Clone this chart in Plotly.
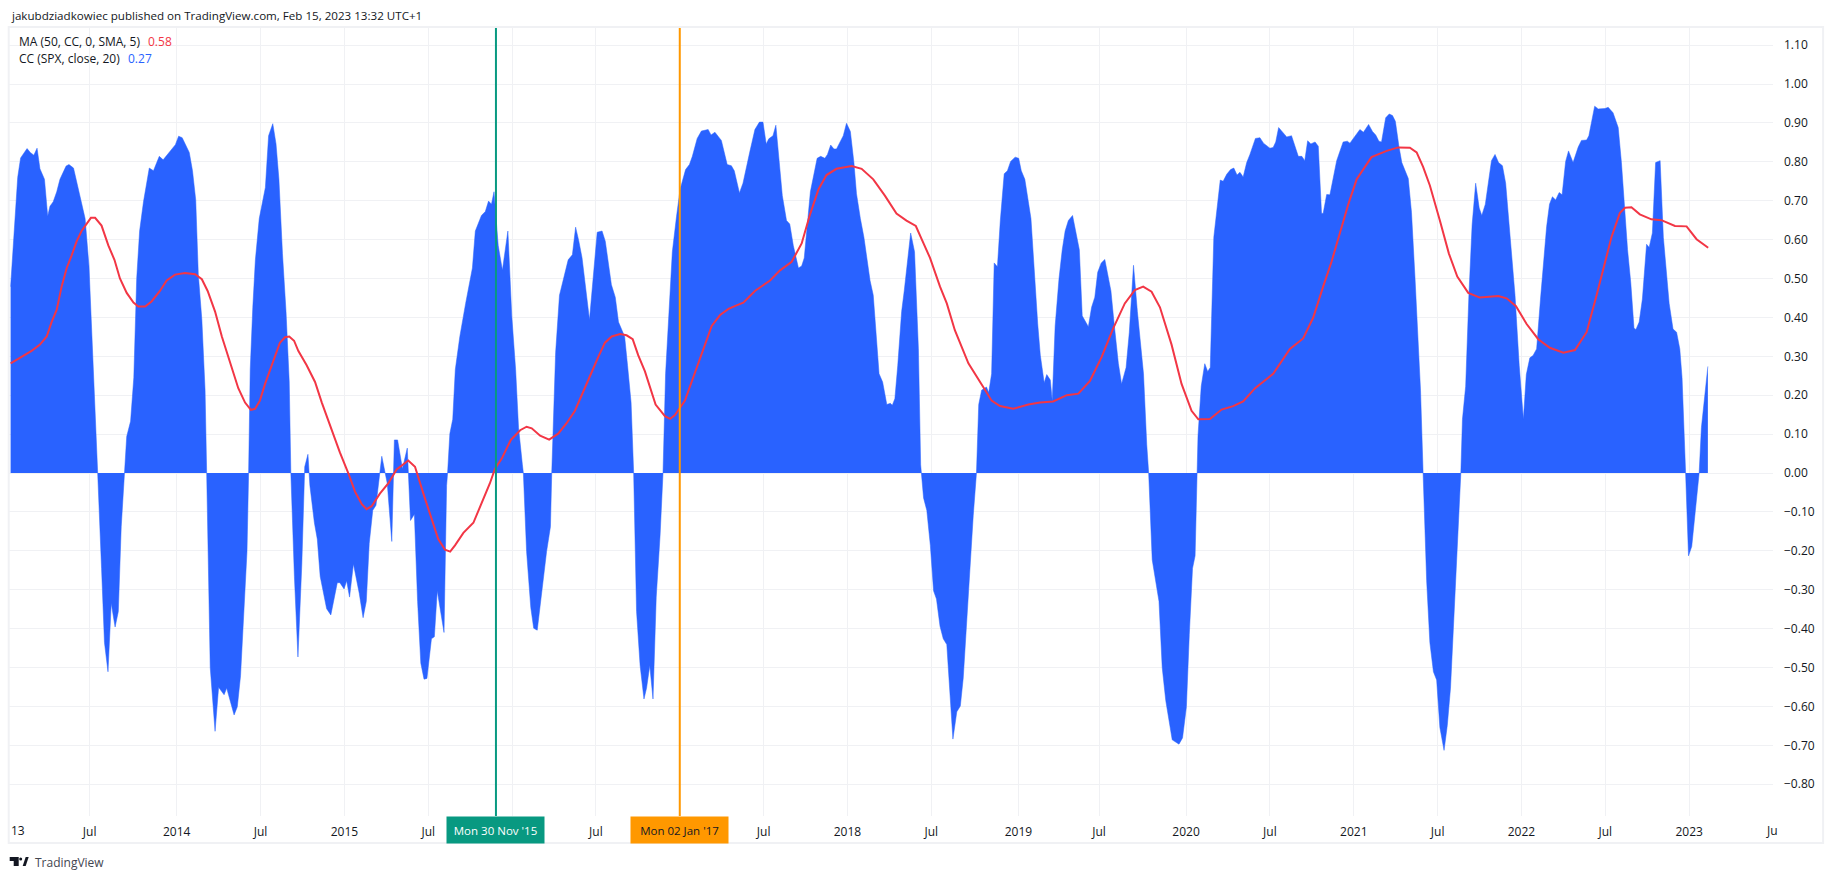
import pandas as pd
import plotly.graph_objects as go

# bar number = weeks since first weekly bar on the chart
first_bar = "2013-01-07"
last_bar = 547

cc_bar = [0.5, 1.7, 2.7, 3.6, 4.5, 5.6, 6.6, 7.7, 8.7, 9.6, 11, 12, 12.7, 13.7, 14.8, 15.8, 17.7, 18.6, 20, 23.6,
          24.8, 25.8, 26.9, 27.5, 28.7, 29.6, 30.7, 31.7, 32.9, 33.9, 34.8, 35.7, 36.5, 37.7, 38.7, 39.6, 40.5,
          41.7, 43.5, 44.8, 46.6, 47.8, 49.6, 51.6, 52.6, 53.7, 55.9, 56.9, 57.9, 58.7, 59.8, 60.8, 61.3, 61.8,
          62.4, 63.9, 65, 66.7, 67.5, 69.8, 70.8, 71.8, 72.8, 73.8, 74.3, 74.8, 75.6, 76.4, 77.6, 79.5, 80.5,
          81.8, 82.8, 83.7, 84.8, 85.9, 86.9, 87.4, 88.5, 89.6, 90.8, 91.7, 92.7, 93.3, 94.7, 95.6, 96.5, 97.6,
          98.5, 99.8, 100.8, 101.8, 102.6, 103.9, 104.7, 105.6, 106.8, 108.6, 109.8, 110.8, 111.7, 112.8, 113.8,
          114.7, 115.6, 117.3, 118.7, 119.5, 120.5, 122, 123.5, 124.5, 125.7, 126.7, 127.7, 128.7, 129.6, 131,
          131.9, 132.8, 134.9, 135.7, 136, 136.7, 137.6, 138.4, 139.8, 141.6, 143.7, 144.6, 146.5, 147.7, 148.7,
          149.6, 150.4, 151.7, 153, 154.7, 155.9, 157.1, 158, 159.2, 159.5, 160.5, 161.8, 162.7, 163.8, 166.7,
          167.9, 168.3, 168.8, 169.5, 170.7, 171.9, 173.4, 174.7, 175.7, 176.7, 177.7, 180, 181.2, 182.4, 183.9,
          184.9, 186.8, 188, 189, 190, 190.9, 191.8, 192.9, 193.7, 194.6, 195.7, 196.9, 197.7, 198.7, 199.7,
          200.7, 201.9, 202.8, 203.6, 204.7, 205.7, 207, 208.1, 209.8, 211, 211.9, 213.4, 214.7, 216.8, 217.7,
          218.9, 220.9, 222.7, 224, 224.9, 226.5, 227.6, 229.7, 231.3, 232.7, 233.8, 234.8, 235.6, 236.9, 237.8,
          239.8, 241.1, 242.1, 243.2, 244.8, 245.8, 246.6, 248.5, 250.6, 251.7, 253, 253.8, 254.8, 255.8, 256.6,
          257.7, 258.7, 259.7, 260.9, 262, 262.8, 264, 265.1, 267, 268, 269.8, 270.9, 272.2, 273.3, 273.9, 274.7,
          275.6, 276.8, 277.6, 278.7, 279.6, 280.8, 282, 282.7, 282.9, 283.6, 284.6, 285.7, 286.7, 287.6, 288.7,
          289.7, 290.8, 291.8, 292.7, 293.9, 295, 295.9, 297, 298, 299, 300, 300.7, 301.6, 303.1, 303.8, 304.7,
          305.5, 306.5, 307.4, 308.6, 309.6, 310.6, 312, 313.1, 313.9, 315, 316.9, 318, 319, 319.8, 321, 321.8,
          322.9, 323.5, 324.4, 325.6, 326.6, 327.5, 328.5, 329.8, 331.9, 332.8, 334.7, 335.7, 336.7, 337.6, 338.7,
          339.8, 341.7, 342.7, 344, 345, 346.4, 347.4, 348.1, 348.7, 349.9, 351.8, 352.8, 353.4, 354.5, 356.6,
          357.6, 358.7, 360.7, 362.8, 363.9, 365.1, 366, 367, 367.8, 368.4, 368.7, 369.7, 370.8, 371.7, 372.5,
          373.6, 374.7, 375.6, 376.5, 377.6, 378.8, 379.8, 380.8, 381.7, 382.7, 383.8, 384.8, 386.5, 387.9, 389,
          391, 392, 392.8, 393.7, 396.2, 397.7, 399.8, 400.9, 401.8, 402.7, 403.7, 405, 406, 407, 407.5, 408.6,
          409.6, 411.7, 413.7, 415, 415.8, 417.9, 418.9, 420, 421.6, 422.8, 423.8, 424.8, 425.6, 426.9, 428, 429,
          429.9, 431, 431.9, 433.9, 434.9, 436, 437, 437.7, 438.5, 439.6, 440.6, 441.7, 442.7, 443.7, 445, 446,
          447, 448.2, 449.1, 449.9, 450.2, 450.7, 451.7, 452.7, 453.7, 454.8, 455.9, 456.7, 457.8, 459.7, 460.8,
          461.9, 463.1, 464.1, 465.9, 467, 468.3, 468.9, 469.6, 470.5, 471.6, 472.6, 473.7, 474.9, 475.8, 476.8,
          477.7, 478.6, 479.6, 480.7, 481.6, 482.7, 483.6, 485, 486.6, 487.6, 489.2, 489.9, 491.7, 492.8, 494.9,
          495.9, 497.4, 499, 500, 501.1, 501.9, 502.9, 503.9, 504.5, 505.5, 506.5, 507.8, 508.6, 509.6, 510.6,
          512, 513, 514.8, 516, 517.1, 518.1, 518.8, 519.9, 520.8, 521.8, 523.8, 524.1, 524.8, 525.8, 526.8]
cc_val = [.479, .64, .76, .81, .82, .834, .824, .817, .835, .782, .755, .66, .686, .697, .723, .755, .789, .793, .784, .654,
          .532, .319, .117, 0, -.245, -.436, -.511, -.335, -.396, -.356, -.138, 0, .094, .133, .245, .5, .622,
          .697, .784, .777, .814, .805, .824, .844, .866, .862, .824, .777, .702, .511, .394, .213, 0, -.234,
          -.5, -.664, -.551, -.57, -.553, -.622, -.601, -.521, -.372, -.202, 0, .266, .426, .548, .654, .734, .867,
          .898, .846, .755, .564, .415, .234, 0, -.266, -.473, -.234, .016, .048, -.032, -.128, -.17, -.266, -.309,
          -.349, -.365, -.324, -.282, -.282, -.298, -.277, -.319, -.234, -.309, -.372, -.33, -.181, -.096, -.083,
          -.021, .043, -.027, -.176, .085, .085, .011, .064, -.122, -.106, -.33, -.489, -.53, -.528, -.426,
          -.421, -.303, -.41, -.032, 0, .101, .138, .266, .351, .436, .527, .622, .662, .672, .699,
          .691, .723, .585, .521, .622, .404, .266, .117, .021, 0, -.202, -.346, -.399, -.404, -.202,
          -.138, 0, .149, .309, .457, .5, .548, .561, .632, .596, .553, .394, .5, .619, .622,
          .596, .484, .452, .388, .367, .351, .277, .181, 0, -.356, -.495, -.581, -.553, -.495, -.581,
          -.319, -.16, 0, .255, .426, .569, .66, .729, .78, .793, .814, .86, .879, .883, .869,
          .876, .855, .793, .79, .777, .72, .745, .825, .883, .902, .902, .846, .859, .867, .894,
          .713, .649, .64, .585, .527, .532, .553, .723, .809, .814, .809, .819, .843, .833, .833,
          .851, .867, .899, .878, .798, .718, .654, .606, .495, .457, .255, .234, .176, .179, .174, .191,
          .277, .415, .468, .559, .617, .569, .319, .021, 0, -.064, -.096, -.186, -.303, -.324, -.394,
          -.426, -.441, -.564, -.684, -.614, -.599, -.527, -.372, -.26, -.11, 0, .176, .213, .221, .207, .255,
          .54, .53, .649, .769, .777, .801, .812, .809, .777, .755, .654, .5, .383, .303, .232, .253,
          .239, .186, .378, .5, .574, .622, .649, .662, .574, .404, .376, .426, .452, .516, .54,
          .549, .468, .383, .282, .229, .271, .362, .468, .534, .415, .255, .074, 0, -.223, -.33,
          -.5, -.585, -.686, -.697, -.681, -.601, -.415, -.245, -.213, 0, .096, .223, .281, .261, .271,
          .606, .691, .753, .75, .768, .78, .784, .766, .773, .761, .798, .819, .86, .862, .848,
          .835, .837, .851, .888, .864, .867, .814, .814, .803, .854, .846, .851, .84, .668, .667, .716,
          .715, .803, .851, .853, .848, .874, .883, .876, .896, .878, .869, .853, .851, .913, .923, .919,
          .904, .84, .798, .757, .67, .5, .33, .213, 0, -.277, -.436, -.511, -.532, -.654, -.713, -.649,
          -.553, -.34, -.202, -.053, 0, .138, .223, .457, .638, .745, .681, .662, .691, .803, .819,
          .798, .79, .745, .553, .457, .277, .202, .138, .253, .296, .302, .319, .447, .532, .633,
          .691, .71, .702, .721, .715, .801, .828, .798, .838, .855, .856, .867, .943, .936, .937,
          .94, .926, .888, .798, .67, .574, .489, .372, .369, .388, .447, .588, .58, .617, .798,
          .803, .606, .436, .37, .362, .319, .245, 0, -.213, -.189, -.032, 0, .117, .191, .274]

ma_bar = [0.5, 3.9, 7, 9.6, 11.7, 13.2, 14.8, 16.3, 17.9, 19.4, 21, 22.5, 24, 25.4, 26.7, 28.7, 30.8, 32.7, 34.4, 36.5,
          38.6, 40.1, 42.2, 44.2, 46.8, 48.9, 51.5, 54.6, 57.7, 59.8, 61.6, 63.9, 66, 68.5, 71.1, 73.2, 75, 76.3,
          77.8, 79.4, 81.4, 84, 85.6, 86.9, 88.4, 89.7, 92.3, 94.9, 97, 99.5, 102.6, 105.2, 107.3, 109.4, 110.9,
          112.5, 115, 117.6, 120.2, 123.8, 125.9, 128.5, 131, 133.1, 135.2, 136.8, 138.3, 140.9, 144, 147.1, 149.1,
          150.7, 152.8, 155.6, 158.5, 160.5, 162.1, 164.7, 167.5, 170.3, 172.9, 175.5, 177.6, 180.2, 182.7, 184.8,
          186.9, 189.5, 191.5, 193.4, 195.1, 197.2, 200.5, 203.4, 205, 206.5, 209.6, 211.2, 213.8, 216.3, 217.9,
          220.5, 223.1, 225.6, 227.7, 231.3, 236, 239.1, 242.7, 245.8, 248.4, 251, 253.5, 256.6, 261.3, 264.4, 268,
          271.6, 275.2, 278.3, 281.2, 283, 285.6, 288.7, 290.8, 293.3, 297.5, 302.1, 304.7, 307.3, 311.4, 316.1,
          319.7, 323.8, 328, 331.6, 335.2, 338.8, 342.4, 346, 349.1, 351.7, 354.3, 356.9, 360.5, 363.6, 366.7,
          368.8, 372.4, 376, 379.6, 382.7, 386.4, 392, 394.6, 397.2, 401.3, 404.4, 407.5, 410.1, 412.7, 415.3,
          417.9, 422.5, 427.2, 430.8, 434.4, 436.5, 438.5, 440.6, 443.7, 446.5, 449.1, 452.5, 456.1, 461.8, 464.4,
          467.3, 470.6, 474.2, 477.8, 482, 485.6, 489.2, 492.3, 494.9, 496.9, 499.5, 501.1, 503.1, 505.7, 509.3,
          512.4, 516.6, 520.2, 523.3, 526.9]
ma_val = [.282, .298, .314, .33, .351, .388, .42, .479, .527, .559, .596, .622, .641, .656, .656, .636, .585, .548, .5, .463,
          .438, .428, .428, .441, .468, .495, .51, .514, .511, .498, .468, .415, .351, .287, .218, .181, .162, .165,
          .186, .229, .277, .335, .349, .351, .34, .314, .277, .234, .181, .122, .053, 0, -.048, -.08, -.093,
          -.085, -.053, -.027, .009, .032, .016, -.053, -.117, -.17, -.197, -.202, -.186, -.154, -.128, -.069, -.027,
          .011, .037, .085, .11, .119, .115, .096, .086, .101, .128, .16, .202, .25, .298, .335,
          .351, .357, .354, .344, .303, .261, .176, .146, .139, .149, .186, .223, .287, .346, .378,
          .406, .422, .431, .438, .468, .495, .521, .543, .59, .665, .729, .766, .782, .789, .782, .755,
          .713, .667, .649, .635, .601, .553, .479, .436, .367, .282, .221, .186, .172, .165, .176,
          .181, .184, .2, .204, .237, .298, .372, .436, .47, .479, .466, .426, .33, .229, .16,
          .138, .139, .163, .172, .184, .218, .255, .287, .319, .346, .399, .479, .543, .617, .691,
          .755, .812, .828, .837, .836, .824, .787, .739, .649, .564, .505, .463, .451, .455, .449,
          .429, .383, .344, .322, .309, .316, .362, .457, .543, .606, .668, .682, .683, .665, .652,
          .65, .635, .634, .601, .579]

x_ticks = ["2013-07-01", "2014-01-06", "2014-07-07", "2015-01-05", "2015-07-06", "2016-01-04", "2016-07-04",
           "2017-01-02", "2017-07-03", "2018-01-01", "2018-07-02", "2019-01-07", "2019-07-01", "2020-01-06",
           "2020-07-06", "2021-01-04", "2021-07-05", "2022-01-03", "2022-07-04", "2023-01-02", "2023-07-03"]
# 2016 and 2017 sit under the marker boxes, the last one is cut off by the price scale
x_labels = ["Jul", "2014", "Jul", "2015", "Jul", "", "Jul", "", "Jul", "2018", "Jul", "2019", "Jul", "2020",
            "Jul", "2021", "Jul", "2022", "Jul", "2023", ""]
y_ticks = [1.1, 1.0, .9, .8, .7, .6, .5, .4, .3, .2, .1, 0, -.1, -.2, -.3, -.4, -.5, -.6, -.7, -.8]

marker_dates = ["2015-11-30", "2017-01-02"]
marker_labels = ["Mon 30 Nov '15", "Mon 02 Jan '17"]
marker_colors = ["#089981", "#FF9800"]
marker_text = ["#ffffff", "#131722"]

W, H = 1834, 879
L, R, T, B = 9.3, 1773.4, 27, 816
FONT = "Open Sans"
BLUE = "#2962FF"
RED = "#F23645"
GRID = "#f0f1f4"


def bars_to_dates(bars):
    return pd.Timestamp(first_bar) + pd.to_timedelta([b * 7 for b in bars], unit="D")


def px(x):
    return (x - L) / (R - L)


def py(y):
    return (B - y) / (B - T)


fig = go.Figure()
fig.add_trace(go.Scatter(x=bars_to_dates(cc_bar), y=cc_val, mode="lines", fill="tozeroy", fillcolor=BLUE,
                         line=dict(color=BLUE, width=0.5), showlegend=False))
fig.add_trace(go.Scatter(x=bars_to_dates(ma_bar), y=ma_val, mode="lines",
                         line=dict(color=RED, width=2), showlegend=False))

for d, c in zip(marker_dates, marker_colors):
    fig.add_shape(type="line", x0=d, x1=d, yref="paper", y0=0, y1=1, line=dict(color=c, width=2))

annos = []
for d, t, c, tc in zip(marker_dates, marker_labels, marker_colors, marker_text):
    annos.append(dict(x=d, xref="x", y=py(816), yref="paper", yanchor="top", xanchor="center", text=t,
                      showarrow=False, bgcolor=c, width=95, height=24, font=dict(color=tc, size=11.5, family=FONT)))


def label(x, y, text, color="#131722", size=12, anchor="left"):
    annos.append(dict(x=px(x), y=py(y), xref="paper", yref="paper", xanchor=anchor, yanchor="middle",
                      text=text, showarrow=False, font=dict(color=color, size=size, family=FONT)))


label(9, 15, "jakubdziadkowiec published on TradingView.com, Feb 15, 2023 13:32 UTC+1", "#131722", 11.6)
label(17, 41, "MA (50, CC, 0, SMA, 5)", "#131722", 12)
label(146, 41, "0.58", RED, 12)
label(17, 59, "CC (SPX, close, 20)", "#131722", 12)
label(126, 59, "0.27", BLUE, 12)
label(9, 830, "13", "#131722", 12)
label(1764, 830, "Ju", "#131722", 12)
label(33, 862, "TradingView", "#434651", 12)

# frame round the pane and the price scale
fig.add_shape(type="rect", xref="paper", yref="paper", x0=px(9), x1=px(1823.5), y0=py(843), y1=py(27),
              line=dict(color=GRID, width=2))

# TradingView logo
logo = [[(10, 857), (19, 857), (19, 866), (14, 866), (14, 861), (10, 861)],
        [(23, 866), (26, 857), (29, 857), (26, 866)]]
for part in logo:
    path = "M " + " L ".join(f"{px(x)},{py(y)}" for x, y in part) + " Z"
    fig.add_shape(type="path", xref="paper", yref="paper", path=path, fillcolor="#131722", line=dict(width=0))
fig.add_shape(type="circle", xref="paper", yref="paper", x0=px(19.5), x1=px(22.5), y0=py(860.5), y1=py(857.5),
              fillcolor="#131722", line=dict(width=0))

fig.update_layout(width=W, height=H, margin=dict(l=L, r=W - R, t=T, b=H - B, autoexpand=False),
                  paper_bgcolor="white", plot_bgcolor="white", annotations=annos, showlegend=False,
                  font=dict(family=FONT, size=12, color="#131722"))
fig.update_xaxes(range=[bars_to_dates([0])[0], bars_to_dates([last_bar])[0]], tickmode="array", tickvals=x_ticks,
                 ticktext=x_labels, tickangle=0, showgrid=True, gridcolor=GRID, gridwidth=1, zeroline=False,
                 showline=False, ticks="", ticklabelstandoff=7)
fig.update_yaxes(range=[(473 - B) / 389, (473 - T) / 389], side="right", tickmode="array", tickvals=y_ticks,
                 ticktext=[f"{v:.2f}".replace("-", "\u2212") for v in y_ticks], showgrid=True, gridcolor=GRID,
                 gridwidth=1, zeroline=False, showline=False, ticks="", ticklabelstandoff=10)

fig.write_html("out.html", config=dict(displayModeBar=False), post_script="document.body.style.margin='0';")
